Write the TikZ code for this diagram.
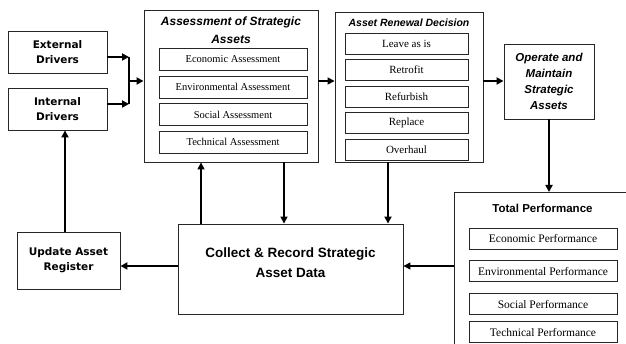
\documentclass[tikz,border=0pt]{standalone}
\usepackage{fontspec}
\setmainfont{Liberation Serif}
\setsansfont{Liberation Sans}
\newfontfamily\djv{DejaVu Sans}
\usetikzlibrary{arrows.meta,positioning}
\tikzset{
  >={Triangle[length=7pt,width=7pt]},
  box/.style={draw=black!85,line width=0.9pt,fill=white,align=center,inner sep=1pt},
  dbox/.style={box,font=\djv\bfseries\fontsize{10.5}{15}\selectfont},
  sbox/.style={box,minimum height=22pt,font=\fontsize{10.5}{12}\selectfont},
  rbox/.style={box,minimum width=123pt,minimum height=21pt,font=\fontsize{11}{12}\selectfont},
  pbox/.style={box,minimum width=148pt,minimum height=21pt,font=\fontsize{11.5}{12}\selectfont},
  ttl/.style={align=center,inner sep=0pt,font=\sffamily\bfseries\itshape\fontsize{12}{18}\selectfont},
  lin/.style={draw=black,line width=1.5pt},
  arr/.style={->,draw=black,line width=1.5pt},
  marr/.style={->,draw=black,line width=2.2pt},
  tarr/.style={->,draw=black,line width=2.8pt},
}
\begin{document}
\begin{tikzpicture}[x=1pt,y=-1pt,node distance=4.6pt]
\clip (0,0) rectangle (626,344);
\fill[white] (0,0) rectangle (626,344);
% drivers and register
\node[dbox,minimum width=99pt,minimum height=42pt] (ext) at (57.5,52) {External\\Drivers};
\node[dbox,minimum width=99pt,minimum height=42pt] (int) at (57.5,109) {Internal\\Drivers};
\node[dbox,minimum width=103pt,minimum height=57pt] (upd) at (68.5,260.5) {Update Asset\\Register};
% assessment
\node[box,minimum width=174pt,minimum height=152pt] (ass) at (231,86) {};
\node[ttl] (asst) at (231,30.5) {Assessment of Strategic\\Assets};
\node[sbox,minimum width=148pt] (eco) at (233,59.5) {Economic Assessment};
\node[sbox,minimum width=148pt,below=of eco] (env) {Environmental Assessment};
\node[sbox,minimum width=148pt,below=of env] (soc) {Social Assessment};
\node[sbox,minimum width=148pt,below=of soc] (tec) {Technical Assessment};
% renewal decision
\node[box,minimum width=148pt,minimum height=150pt] (ren) at (409,87) {};
\node[ttl,font=\sffamily\bfseries\itshape\fontsize{10.5}{12}\selectfont] (rent) at (409,23) {Asset Renewal Decision};
\node[rbox] (lve) at (406.5,43.5) {Leave as is};
\node[rbox,below=of lve] (rtf) {Retrofit};
\node[rbox,below=of rtf] (rfb) {Refurbish};
\node[rbox,below=of rfb] (rpl) {Replace};
\node[rbox,below=of rpl] (ovh) {Overhaul};
% operate
\node[box,minimum width=90pt,minimum height=75pt,font=\sffamily\bfseries\itshape\fontsize{11.5}{16}\selectfont] (op) at (549,81.5) {Operate and\\Maintain\\Strategic\\Assets};
% total performance
\node[box,minimum width=190pt,minimum height=170pt,anchor=north west] (tot) at (454,192) {};
\node[ttl,font=\sffamily\bfseries\fontsize{11.5}{12}\selectfont] (tott) at (542.5,208) {Total Performance};
\node[pbox] (ecp) at (543,238.5) {Economic Performance};
\node[pbox,below=11pt of ecp] (enp) {Environmental Performance};
\node[pbox,below=11pt of enp] (scp) {Social Performance};
\node[pbox,below=6pt of scp] (tcp) {Technical Performance};
% collect
\node[box,minimum width=225pt,minimum height=90pt] (col) at (290.5,269) {};
\node[ttl,font=\sffamily\bfseries\fontsize{13.5}{20}\selectfont] (colt) at (290.5,263) {Collect \& Record Strategic\\Asset Data};
% connectors
\coordinate (jn) at (129,81);
\coordinate (lv) at (290,266);
\coordinate (c1) at (201,0);
\coordinate (c2) at (284,0);
\coordinate (c3) at (388,0);
\draw[tarr] ([yshift=-5pt]ext.east) -- ([yshift=-5pt]ext.east -| jn);
\draw[tarr] ([yshift=5pt]int.east) -- ([yshift=5pt]int.east -| jn);
\draw[lin] ([yshift=-5pt]ext.east -| jn) -- ([yshift=5pt]int.east -| jn);
\draw[marr] (jn) -- (jn -| ass.west);
\draw[arr] (jn -| ass.east) -- (jn -| ren.west);
\draw[marr] (jn -| ren.east) -- (jn -| op.west);
\draw[marr] (op.south) -- (op.south |- tot.north);
\draw[arr] (lv -| tot.west) -- (lv -| col.east);
\draw[tarr] (lv -| col.west) -- (lv -| upd.east);
\draw[tarr] ([xshift=-3.5pt]upd.north) -- ([xshift=-3.5pt]upd.north |- int.south);
\draw[arr] (c1 |- col.north) -- (c1 |- ass.south);
\draw[arr] (c2 |- ass.south) -- (c2 |- col.north);
\draw[marr] (c3 |- ren.south) -- (c3 |- col.north);
\end{tikzpicture}
\end{document}
